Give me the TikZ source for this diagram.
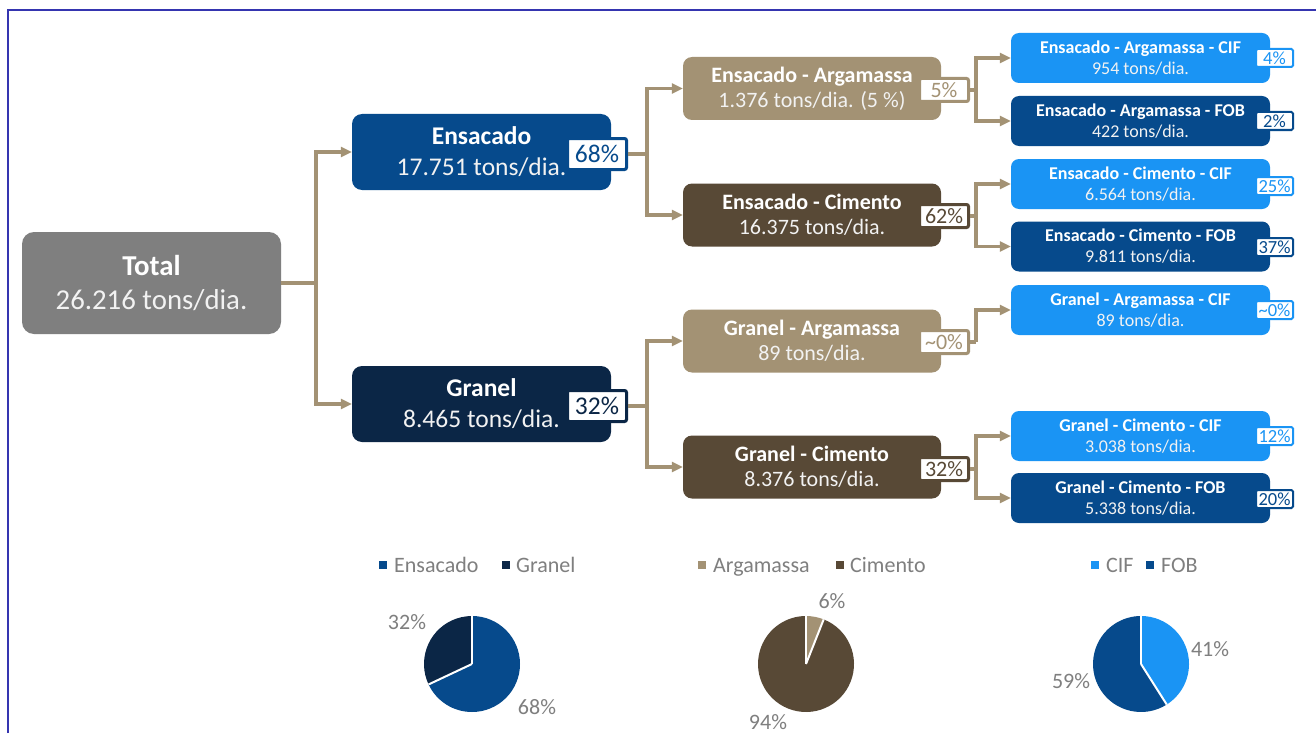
\documentclass[tikz,border=0pt]{standalone}
\usepackage{fontspec}
\setmainfont{Carlito}
\usetikzlibrary{arrows.meta}
\definecolor{cGray}{HTML}{7F7F7F}
\definecolor{cDblue}{HTML}{064A8C}
\definecolor{cNavy}{HTML}{0B2646}
\definecolor{cTan}{HTML}{A39274}
\definecolor{cBrown}{HTML}{584936}
\definecolor{cBblue}{HTML}{1A94F4}
\definecolor{cFrame}{HTML}{3535B0}
\definecolor{cLabel}{HTML}{7F7F7F}
\definecolor{cSub}{HTML}{F2F2F2}
\tikzset{
  box/.style={rounded corners=#1, align=center, text=white, inner sep=0pt},
  lvzero/.style={box=12pt, fill=cGray, minimum width=259pt, minimum height=102pt, font=\fontsize{28.8}{34}\selectfont},
  lvone/.style={box=10pt, fill=#1, minimum width=259pt, minimum height=76pt, font=\fontsize{25.5}{31}\selectfont},
  lvtwo/.style={box=9pt, fill=#1, minimum width=258pt, minimum height=63pt, font=\fontsize{22}{25}\selectfont},
  lvthree/.style={box=8pt, fill=#1, minimum width=259pt, minimum height=50pt, font=\fontsize{18}{21}\selectfont},
  bdgone/.style={draw=#1, text=#1, fill=white, line width=3pt, rounded corners=2pt, minimum width=59pt, minimum height=31pt, inner sep=0pt, font=\fontsize{25.5}{25}\selectfont},
  bdgtwo/.style={draw=#1, text=#1, fill=white, line width=3pt, rounded corners=2pt, minimum width=49pt, minimum height=23pt, inner sep=0pt, font=\fontsize{22}{22}\selectfont},
  bdgthree/.style={draw=#1, text=#1, fill=white, line width=2pt, rounded corners=1.5pt, minimum width=37pt, minimum height=18pt, inner sep=0pt, font=\fontsize{18.5}{18}\selectfont},
  conn/.style={draw=cTan, line width=3.2pt},
  arr/.style={conn, -{Triangle[length=11pt,width=10pt]}},
  lsq/.style={fill=#1, minimum size=8pt, inner sep=0pt},
  ltxt/.style={anchor=base west, inner sep=0pt, text=cLabel, font=\fontsize{22}{22}\selectfont},
  plabel/.style={inner sep=0pt, text=cLabel, font=\fontsize{22}{22}\selectfont},
  sep/.style={white, line width=2pt}
}
\begin{document}
\begin{tikzpicture}[x=1pt,y=-1pt]
\useasboundingbox (0,0) rectangle (1316,733);
\fill[white] (0,0) rectangle (1316,733);
\draw[cFrame, line width=1.8pt] (8,733) -- (8,10) -- (1316,10);

% level 0
\node[lvzero] (total) at (151.5,283) {\textbf{Total}\\{\color{cSub}26.216 tons/dia.}};

% level 1
\node[lvone=cDblue] (ens) at (481.5,152) {\textbf{Ensacado}\\{\color{cSub}17.751 tons/dia.}};
\node[lvone=cNavy] (gra) at (481.5,404) {\textbf{Granel}\\{\color{cSub}8.465 tons/dia.}};
\node[bdgone=cDblue] (b68) at (597,154) {68\%};
\node[bdgone=cNavy] (b32) at (597,406) {32\%};

% level 2
\node[lvtwo=cTan] (ea) at (812,88.5) {\textbf{Ensacado - Argamassa}\\{\color{cSub}1.376 tons/dia. (5 \%)}};
\node[lvtwo=cBrown] (ec) at (812,215) {\textbf{Ensacado - Cimento}\\{\color{cSub}16.375 tons/dia.}};
\node[lvtwo=cTan] (ga) at (812,341) {\textbf{Granel - Argamassa}\\{\color{cSub}89 tons/dia.}};
\node[lvtwo=cBrown] (gc) at (812,467) {\textbf{Granel - Cimento}\\{\color{cSub}8.376 tons/dia.}};
\node[bdgtwo=cTan] (b5) at (944,90) {5\%};
\node[bdgtwo=cBrown] (b62) at (944,216) {62\%};
\node[bdgtwo=cTan] (b0) at (944,342) {\char`~0\%};
\node[bdgtwo=cBrown] (b32b) at (944,469) {32\%};

% level 3
\node[lvthree=cBblue] (eac) at (1140.5,58) {\textbf{Ensacado - Argamassa - CIF}\\{\color{cSub}954 tons/dia.}};
\node[lvthree=cDblue] (eaf) at (1140.5,121) {\textbf{Ensacado - Argamassa - FOB}\\{\color{cSub}422 tons/dia.}};
\node[lvthree=cBblue] (ecc) at (1140.5,184) {\textbf{Ensacado - Cimento - CIF}\\{\color{cSub}6.564 tons/dia.}};
\node[lvthree=cDblue] (ecf) at (1140.5,246.5) {\textbf{Ensacado - Cimento - FOB}\\{\color{cSub}9.811 tons/dia.}};
\node[lvthree=cBblue] (gac) at (1140.5,310) {\textbf{Granel - Argamassa - CIF}\\{\color{cSub}89 tons/dia.}};
\node[lvthree=cBblue] (gcc) at (1140.5,436) {\textbf{Granel - Cimento - CIF}\\{\color{cSub}3.038 tons/dia.}};
\node[lvthree=cDblue] (gcf) at (1140.5,498) {\textbf{Granel - Cimento - FOB}\\{\color{cSub}5.338 tons/dia.}};
\node[bdgthree=cBblue] (p4) at (1274.5,58) {4\%};
\node[bdgthree=cDblue] (p2) at (1274.5,121) {2\%};
\node[bdgthree=cBblue] (p25) at (1274.5,186) {25\%};
\node[bdgthree=cDblue] (p37) at (1274.5,247) {37\%};
\node[bdgthree=cBblue] (p0) at (1274.5,310) {\char`~0\%};
\node[bdgthree=cBblue] (p12) at (1274.5,436) {12\%};
\node[bdgthree=cDblue] (p20) at (1274.5,499) {20\%};

% connectors
\coordinate (j0) at (316,283);
\draw[conn] (total.east) -- (j0);
\draw[arr] (j0) |- (ens.west);
\draw[arr] (j0) |- (gra.west);

\coordinate (j1) at (647,154);
\draw[conn] (b68.east) -- (j1);
\draw[arr] (j1) |- (ea.west);
\draw[arr] (j1) |- (ec.west);
\coordinate (j2) at (647,406);
\draw[conn] (b32.east) -- (j2);
\draw[arr] (j2) |- (ga.west);
\draw[arr] (j2) |- (gc.west);

\coordinate (k1) at (976,90);
\draw[conn] (b5.east) -- (k1);
\draw[arr] (k1) |- (eac.west);
\draw[arr] (k1) |- (eaf.west);
\coordinate (k2) at (976,216);
\draw[conn] (b62.east) -- (k2);
\draw[arr] (k2) |- (ecc.west);
\draw[arr] (k2) |- (ecf.west);
\coordinate (k3) at (976,342);
\draw[conn] (b0.east) -- (k3);
\draw[arr] (k3) |- (gac.west);
\coordinate (k4) at (976,469);
\draw[conn] (b32b.east) -- (k4);
\draw[arr] (k4) |- (gcc.west);
\draw[arr] (k4) |- (gcf.west);

% legends
\node[lsq=cDblue] (lq1) at (383,565) {};
\node[ltxt] (lt1) at (394,572) {Ensacado};
\node[lsq=cNavy] (lq2) at (506,565) {};
\node[ltxt] (lt2) at (516,572) {Granel};
\node[lsq=cTan] (lq3) at (702,565) {};
\node[ltxt] (lt3) at (713,572) {Argamassa};
\node[lsq=cBrown] (lq4) at (840,565) {};
\node[ltxt] (lt4) at (850,572) {Cimento};
\node[lsq=cBblue] (lq5) at (1095,565) {};
\node[ltxt] (lt5) at (1106,572) {CIF};
\node[lsq=cDblue] (lq6) at (1150,565) {};
\node[ltxt] (lt6) at (1161,572) {FOB};

% pie 1
\coordinate (pa) at (472,664);
\fill[cDblue] (pa) -- ++(90:48pt) arc[start angle=90, end angle=-154.8, radius=48pt] -- cycle;
\fill[cNavy] (pa) -- ++(-154.8:48pt) arc[start angle=-154.8, end angle=-270, radius=48pt] -- cycle;
\draw[sep] (pa) -- ++(90:48pt);
\draw[sep] (pa) -- ++(-154.8:48pt);
\node[plabel] (pl1) at (407,622) {32\%};
\node[plabel] (pl2) at (537,707) {68\%};

% pie 2
\coordinate (pb) at (806,664);
\fill[cTan] (pb) -- ++(90:48pt) arc[start angle=90, end angle=68.4, radius=48pt] -- cycle;
\fill[cBrown] (pb) -- ++(68.4:48pt) arc[start angle=68.4, end angle=-270, radius=48pt] -- cycle;
\draw[sep] (pb) -- ++(90:48pt);
\draw[sep] (pb) -- ++(68.4:48pt);
\node[plabel] (pl3) at (832,601) {6\%};
\node[plabel] (pl4) at (768,722) {94\%};

% pie 3
\coordinate (pc) at (1141,664);
\fill[cBblue] (pc) -- ++(90:48pt) arc[start angle=90, end angle=-57.6, radius=48pt] -- cycle;
\fill[cDblue] (pc) -- ++(-57.6:48pt) arc[start angle=-57.6, end angle=-270, radius=48pt] -- cycle;
\draw[sep] (pc) -- ++(90:48pt);
\draw[sep] (pc) -- ++(-57.6:48pt);
\node[plabel] (pl5) at (1210,649) {41\%};
\node[plabel] (pl6) at (1071,681) {59\%};
\end{tikzpicture}
\end{document}
